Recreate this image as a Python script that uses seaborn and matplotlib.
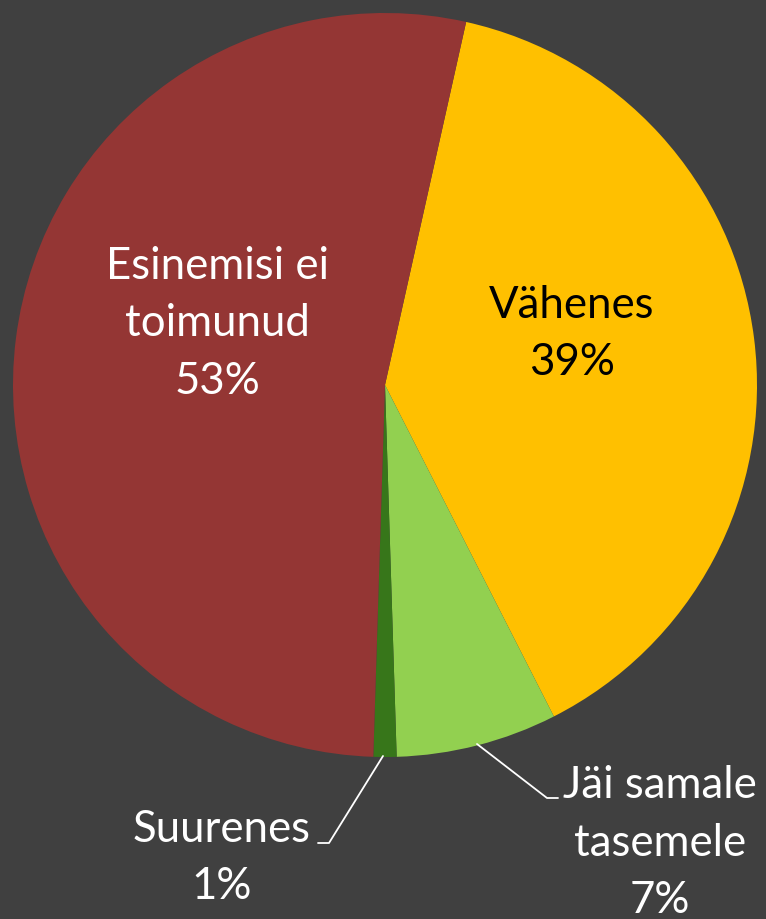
import matplotlib.pyplot as plt
import seaborn as sns

# données du graphique (sens horaire, à partir du haut)
categories = ['Vähenes', 'Jäi samale\ntasemele', 'Suurenes', 'Esinemisi ei\ntoimunud']
valeurs = [39, 7, 1, 53]
couleurs = ['#FFC000', '#92D050', '#37761A', '#943634']
couleurs_texte = ['black', 'white', 'white', 'white']

sns.set_style('dark')
plt.rcParams['font.family'] = ['Lato', 'DejaVu Sans']

fond = '#404040'
fig = plt.figure(figsize=(7.66, 9.19), dpi=100, facecolor=fond)
W, H = 766, 919
cx, cy, r = 385, 385, 372
ax = fig.add_axes([(cx - r) / W, (H - cy - r) / H, 2 * r / W, 2 * r / H])
ax.set_facecolor(fond)

wedges, _ = ax.pie(valeurs, colors=couleurs, startangle=77.4, counterclock=False,
                   radius=1, wedgeprops=dict(linewidth=0))
ax.set_xlim(-1, 1)
ax.set_ylim(-1, 1)
ax.set_aspect('equal')
ax.axis('off')


def px(x, y):
    # pixels -> coordonnées des données
    return (x - cx) / r, (cy - y) / r


total = sum(valeurs)
# positions des étiquettes (en pixels)
pos_etiquettes = [(572, 334), (660, 843), (222, 858), (217, 324)]
for cat, v, coul, (x, y) in zip(categories, valeurs, couleurs_texte, pos_etiquettes):
    ax.text(*px(x, y), f"{cat}\n{round(100 * v / total)}%", color=coul, fontsize=31.5,
            ha='center', va='center', linespacing=1.5, clip_on=False)

# lignes de rappel
for pts in [[(477, 744), (547, 798), (558, 798)], [(383, 756), (329, 843), (318, 843)]]:
    xs, ys = zip(*[px(a, b) for a, b in pts])
    ax.plot(xs, ys, color='white', linewidth=1.3, clip_on=False)

fig.savefig('out.png', dpi=100, facecolor=fond)
